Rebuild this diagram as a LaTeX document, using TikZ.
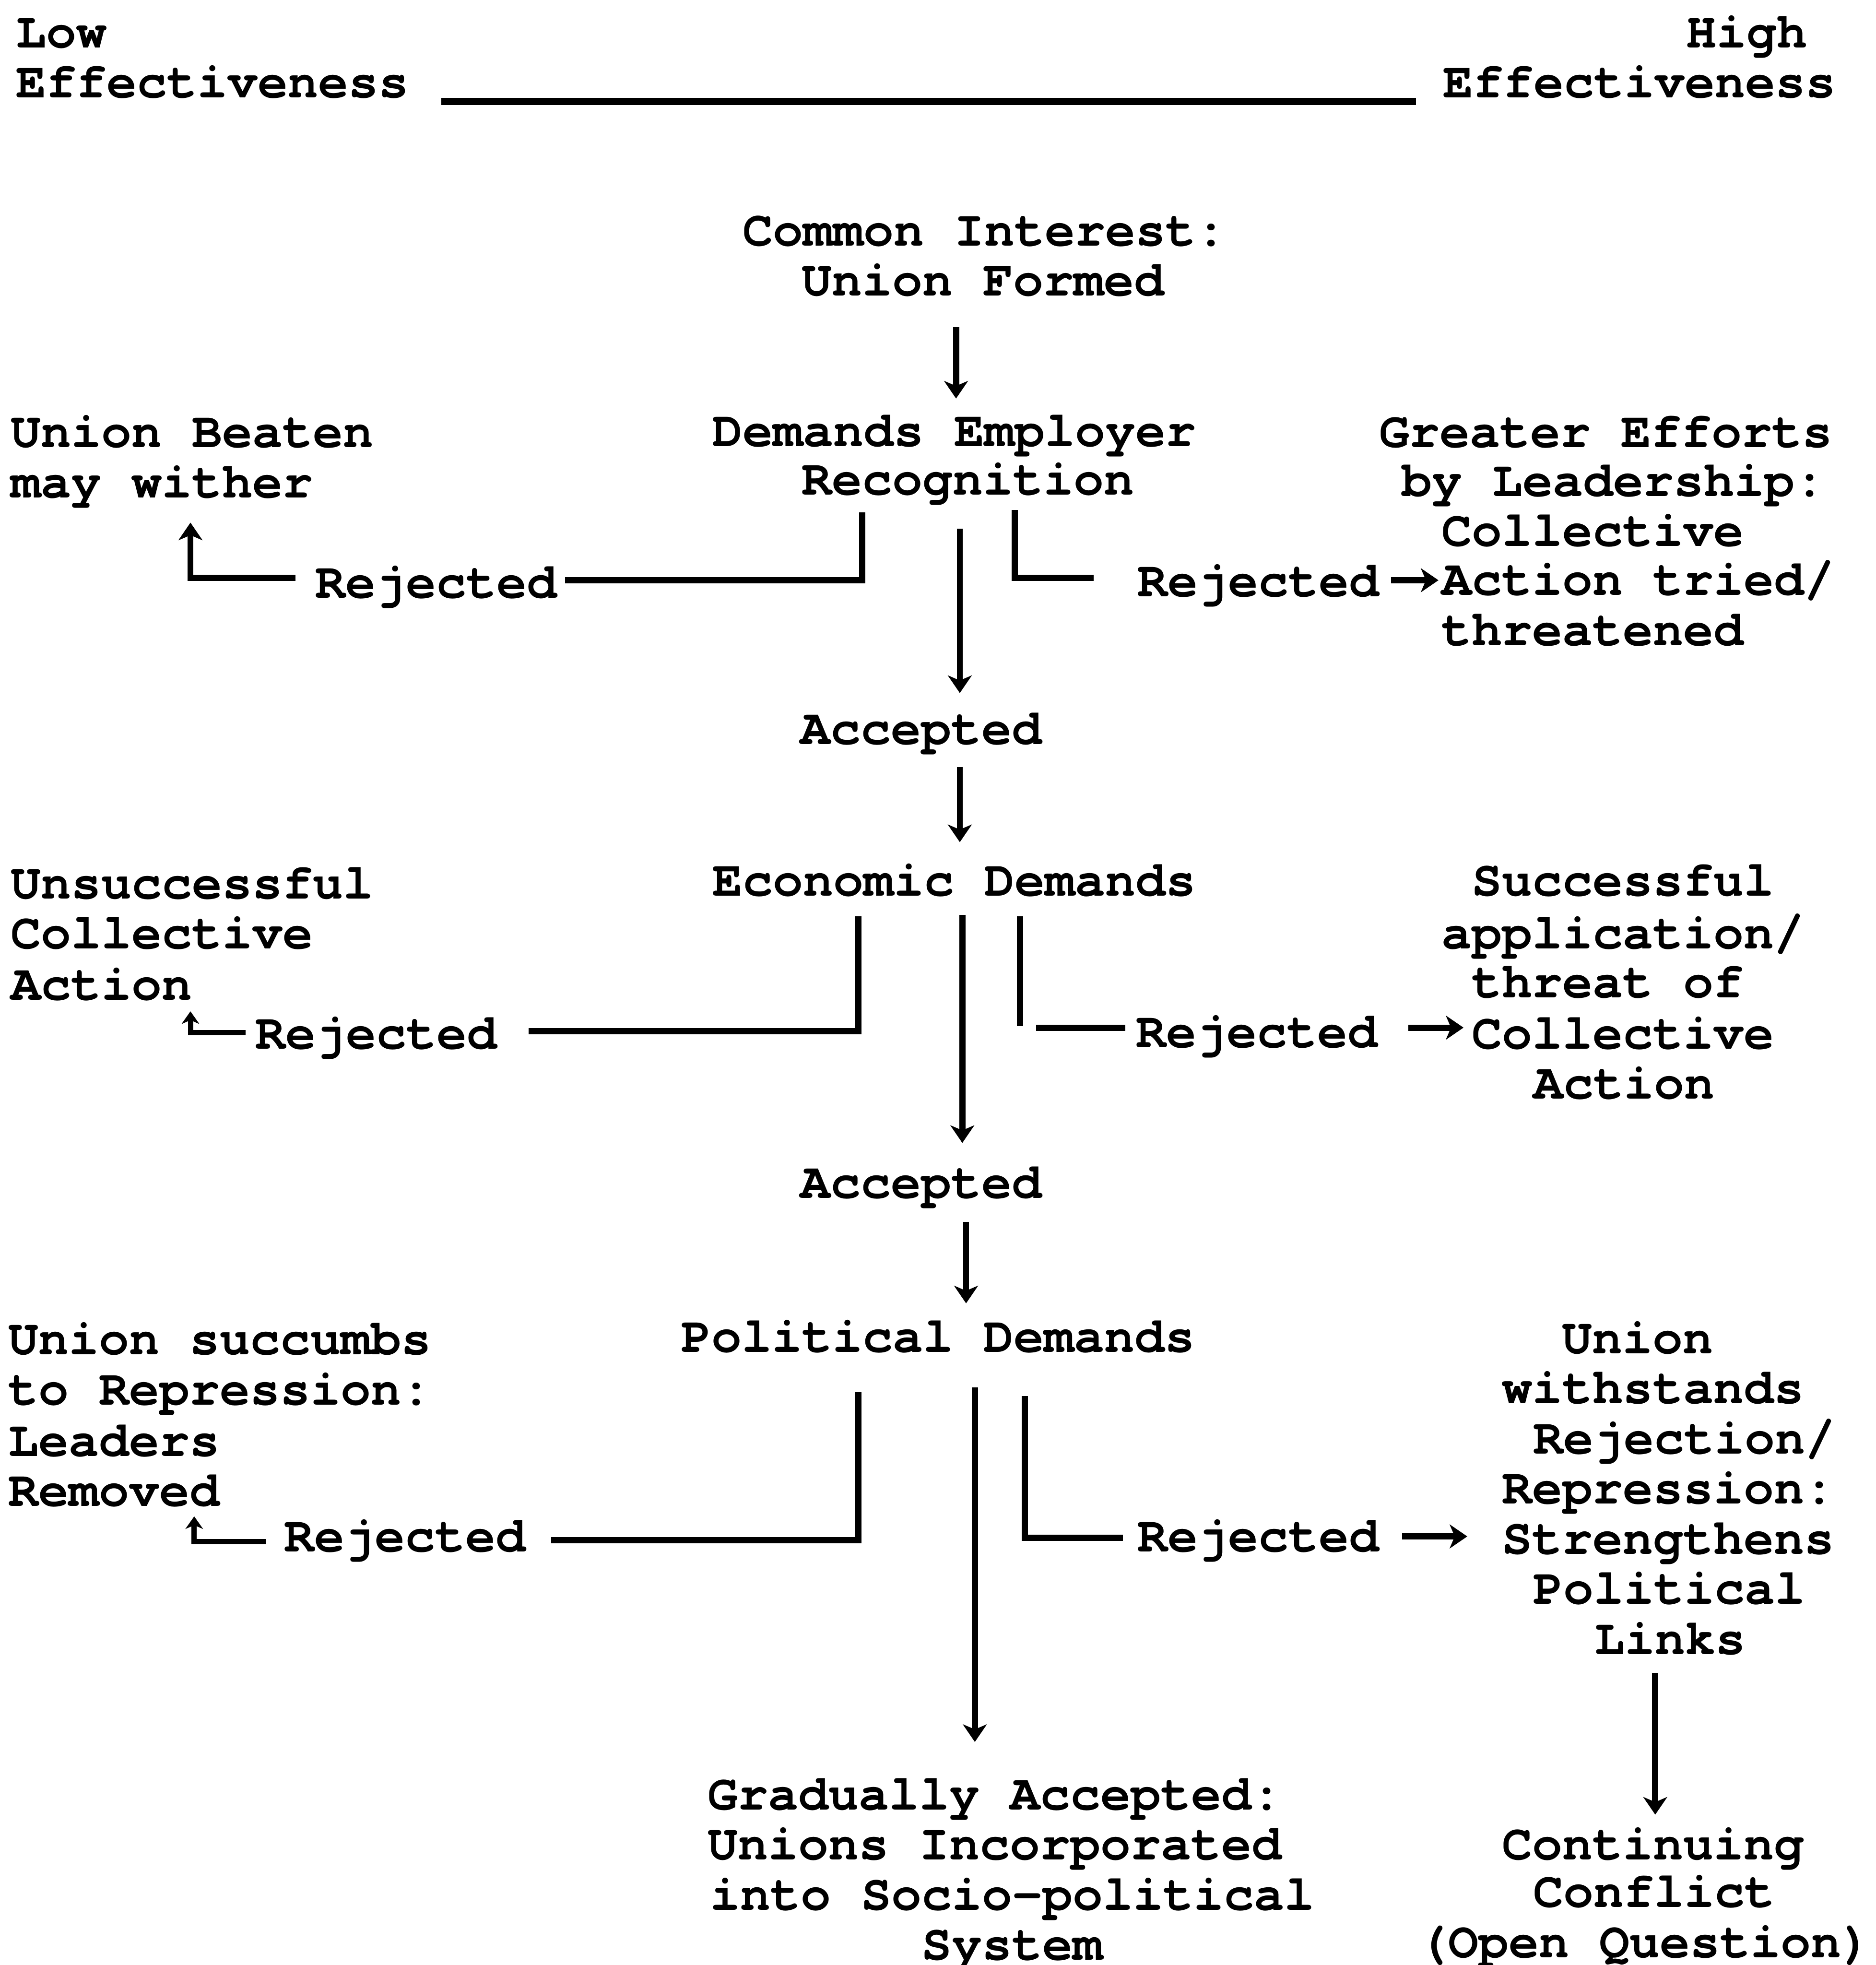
\documentclass[tikz,border=0pt]{standalone}
\usepackage{fontspec}
\newfontfamily\twfont[Ligatures={NoCommon,NoRare}]{TeX Gyre Cursor}
\usetikzlibrary{arrows.meta}
\begin{document}
\begin{tikzpicture}[x=0.01cm,y=-0.01cm,
  txt/.style={font=\twfont\bfseries\fontsize{11.43pt}{13pt}\selectfont, inner sep=0pt, anchor=base west},
  ln/.style={line width=1.4pt},
  scaleline/.style={line width=1.6pt},
  arr/.style={line width=1.4pt, -{Stealth[length=1.4mm,width=1.9mm,inset=0.4mm]}},
  sarr/.style={line width=1.2pt, -{Stealth[length=1.0mm,width=1.4mm,inset=0.3mm]}},
]
\fill[white] (0,0) rectangle (1497,1568);
\useasboundingbox (0,0) rectangle (1497,1568);

% header
\node[txt] (low1) at (12,38) {Low};
\node[txt] (low2) at (12,78) {Effectiveness};
\node[txt] (high1) at (1345,38) {High};
\node[txt] (high2) at (1151,78) {Effectiveness};
\coordinate (scL) at (352,81);
\coordinate (scR) at (1130,81);
\draw[scaleline] (scL) -- (scR);

% top
\node[txt] (ci1) at (592,196) {Common Interest:};
\node[txt] (ci2) at (639,236) {Union Formed};
\node[txt] (de1) at (568,356) {Demands Employer};
\node[txt] (de2) at (639,395) {Recognition};
\node[txt] (ub1) at (8,357) {Union Beaten};
\node[txt] (ub2) at (8,397) {may wither};
\node[txt] (ge1) at (1100,357) {Greater Efforts};
\node[txt] (ge2) at (1118,396) {by Leadership:};
\node[txt] (ge3) at (1150,436) {Collective};
\node[txt] (ge4) at (1150,475) {Action tried/};
\node[txt] (ge5) at (1150,515) {threatened};
\node[txt] (rj1L) at (251,477) {Rejected};
\node[txt] (rj1R) at (907,476) {Rejected};
\node[txt] (ac1) at (638,594) {Accepted};

% row 2
\node[txt] (ed) at (568,715) {Economic Demands};
\node[txt] (uc1) at (8,717) {Unsuccessful};
\node[txt] (uc2) at (8,757) {Collective};
\node[txt] (uc3) at (8,798) {Action};
\node[txt] (sc1) at (1174,715) {Successful};
\node[txt] (sc2) at (1150,757) {application/};
\node[txt] (sc3) at (1174,796) {threat of};
\node[txt] (sc4) at (1174,837) {Collective};
\node[txt] (sc5) at (1223,877) {Action};
\node[txt] (rj2L) at (203,837) {Rejected};
\node[txt] (rj2R) at (906,836) {Rejected};
\node[txt] (ac2) at (638,956) {Accepted};

% row 3
\node[txt] (pd) at (543,1079) {Political Demands};
\node[txt] (us1) at (6,1081) {Union succumbs};
\node[txt] (us2) at (6,1121) {to Repression:};
\node[txt] (us3) at (6,1162) {Leaders};
\node[txt] (us4) at (6,1202) {Removed};
\node[txt] (uw1) at (1246,1080) {Union};
\node[txt] (uw2) at (1198,1120) {withstands};
\node[txt] (uw3) at (1223,1160) {Rejection/};
\node[txt] (uw4) at (1198,1200) {Repression:};
\node[txt] (uw5) at (1198,1240) {Strengthens};
\node[txt] (uw6) at (1223,1280) {Political};
\node[txt] (uw7) at (1272,1320) {Links};
\node[txt] (rj3L) at (226,1238) {Rejected};
\node[txt] (rj3R) at (907,1238) {Rejected};

% bottom
\node[txt] (ga1) at (564,1444) {Gradually Accepted:};
\node[txt] (ga2) at (564,1484) {Unions Incorporated};
\node[txt] (ga3) at (566,1524) {into Socio-political};
\node[txt] (ga4) at (735,1564) {System};
\node[txt] (cc1) at (1198,1484) {Continuing};
\node[txt] (cc2) at (1223,1522) {Conflict};
\node[txt] (cc3) at (1131,1562) {(Open Question)};

% connector coordinates
\coordinate (a1s) at (763,261);  \coordinate (a1e) at (763,318);
\coordinate (a2s) at (766,422);  \coordinate (a2e) at (766,553);
\coordinate (a3s) at (766,612);  \coordinate (a3e) at (766,672);
\coordinate (a4s) at (768,730);  \coordinate (a4e) at (768,912);
\coordinate (a5s) at (771,975);  \coordinate (a5e) at (771,1040);
\coordinate (a6s) at (778,1107); \coordinate (a6e) at (778,1390);
\coordinate (a7s) at (1321,1335); \coordinate (a7e) at (1321,1448);

\coordinate (r1La) at (688,409); \coordinate (r1Lb) at (688,463); \coordinate (r1Lc) at (451,463);
\coordinate (r1Ld) at (236,461); \coordinate (r1Le) at (152,461); \coordinate (r1Lf) at (152,417);
\coordinate (r1Ra) at (810,407); \coordinate (r1Rb) at (810,461); \coordinate (r1Rc) at (873,461);
\coordinate (r1Rd) at (1110,463); \coordinate (r1Re) at (1148,463);

\coordinate (r2La) at (685,731); \coordinate (r2Lb) at (685,823); \coordinate (r2Lc) at (422,823);
\coordinate (r2Ld) at (196,824); \coordinate (r2Le) at (152,824); \coordinate (r2Lf) at (152,807);
\coordinate (r2Ra) at (814,731); \coordinate (r2Rb) at (814,819);
\coordinate (r2Rc) at (827,820); \coordinate (r2Rd) at (898,820);
\coordinate (r2Re) at (1124,820); \coordinate (r2Rf) at (1168,820);

\coordinate (r3La) at (685,1111); \coordinate (r3Lb) at (685,1229); \coordinate (r3Lc) at (440,1229);
\coordinate (r3Ld) at (212,1230); \coordinate (r3Le) at (155,1230); \coordinate (r3Lf) at (155,1210);
\coordinate (r3Ra) at (818,1114); \coordinate (r3Rb) at (818,1227); \coordinate (r3Rc) at (896,1227);
\coordinate (r3Rd) at (1119,1226); \coordinate (r3Re) at (1171,1226);

% main vertical arrows
\draw[arr] (a1s) -- (a1e);
\draw[arr] (a2s) -- (a2e);
\draw[arr] (a3s) -- (a3e);
\draw[arr] (a4s) -- (a4e);
\draw[arr] (a5s) -- (a5e);
\draw[arr] (a6s) -- (a6e);
\draw[arr] (a7s) -- (a7e);

% row 1 branches
\draw[ln] (r1La) -- (r1Lb) -- (r1Lc);
\draw[arr] (r1Ld) -- (r1Le) -- (r1Lf);
\draw[ln] (r1Ra) -- (r1Rb) -- (r1Rc);
\draw[arr] (r1Rd) -- (r1Re);

% row 2 branches
\draw[ln] (r2La) -- (r2Lb) -- (r2Lc);
\draw[sarr] (r2Ld) -- (r2Le) -- (r2Lf);
\draw[ln] (r2Ra) -- (r2Rb);
\draw[ln] (r2Rc) -- (r2Rd);
\draw[arr] (r2Re) -- (r2Rf);

% row 3 branches
\draw[ln] (r3La) -- (r3Lb) -- (r3Lc);
\draw[sarr] (r3Ld) -- (r3Le) -- (r3Lf);
\draw[ln] (r3Ra) -- (r3Rb) -- (r3Rc);
\draw[arr] (r3Rd) -- (r3Re);
\end{tikzpicture}
\end{document}
